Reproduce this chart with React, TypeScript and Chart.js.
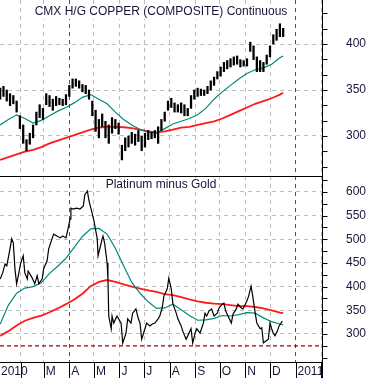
import React, { useEffect, useRef } from "react";
import { Chart, registerables } from "chart.js";

Chart.register(...registerables);

// ---- time axis (days since 1 Jan 2010) ----
const X_MIN = 5.8;
const X_MAX = 397.2;
const monthStarts = [0, 31, 59, 90, 120, 151, 181, 212, 243, 273, 304, 334, 365, 396];
const monthLabels = ["2010", "", "M", "A", "M", "J", "J", "A", "S", "O", "N", "D", "2011", ""];
const markerDays = [90, 365];

// ---- Copper (top panel) ----
const copperTitle = "CMX H/G COPPER (COMPOSITE) Continuous";
const copperDays = [
  6, 10, 14, 18, 22, 26, 30, 34, 38, 42, 46, 50, 54, 58, 62, 66, 70, 74, 78, 82, 86, 90,
  94, 98, 102, 106, 110, 114, 118, 122, 126, 130, 134, 138, 142, 146, 150, 154, 158, 162,
  166, 170, 174, 178, 182, 186, 190, 194, 198, 202, 206, 210, 214, 218, 222, 226, 230, 234,
  238, 242, 246, 250, 254, 258, 262, 266, 270, 274, 278, 282, 286, 290, 294, 298, 302, 306,
  310, 314, 318, 322, 326, 330, 334, 338, 342, 346, 350,
];
const copperHigh = [
  352, 354, 350, 346, 344, 338, 322, 312, 296, 303, 312, 326, 334, 330, 346, 344, 340, 343, 341, 340, 345, 355,
  362, 362, 360, 356, 355, 350, 338, 328, 318, 324, 316, 312, 320, 318, 314, 290, 298, 300,
  304, 302, 306, 300, 303, 306, 304, 306, 310, 318, 326, 338, 341, 336, 334, 336, 334, 330,
  344, 350, 352, 351, 350, 354, 360, 364, 370, 375, 380, 382, 384, 386, 387, 383, 382, 384,
  402, 398, 386, 382, 380, 388, 398, 410, 416, 422, 417,
];
const copperLow = [
  340, 343, 338, 333, 335, 326, 308, 292, 284, 291, 298, 312, 320, 318, 334, 332, 328, 333, 334, 333, 334, 343,
  352, 354, 352, 348, 346, 340, 322, 305, 298, 310, 298, 292, 303, 308, 302, 274, 284, 288,
  292, 290, 294, 284, 288, 296, 297, 298, 292, 306, 316, 328, 331, 326, 326, 325, 322, 322,
  330, 340, 343, 344, 344, 346, 350, 355, 362, 365, 370, 373, 375, 377, 378, 375, 376, 376,
  392, 383, 370, 370, 370, 378, 386, 400, 404, 408, 408,
];

// moving averages sampled on a common date list
const maDays = [
  6, 16, 26, 36, 46, 56, 66, 76, 86, 96, 106, 116, 126, 136, 146, 156, 166, 176,
  186, 196, 206, 216, 226, 236, 246, 256, 266, 276, 286, 296, 306, 316, 326, 336, 346, 350,
];
const copperMAShort = [
  312, 318, 323, 319, 314, 317, 322, 327, 331, 336, 342, 345, 340, 335, 326, 318, 312, 307,
  304, 303, 308, 313, 316, 319, 323, 330, 340, 348, 355, 362, 368, 372, 374, 378, 385, 387,
];
const copperMALong = [
  274, 277, 280, 283, 285, 288, 292, 295, 298, 301, 304, 307, 309, 310, 310, 309.5, 308.5, 307,
  305, 304, 305, 307, 309, 310, 312, 314, 316, 319, 323, 327, 331, 335, 338, 341, 345, 347,
];
const copperTicks = [300, 350, 400];

// ---- Platinum minus Gold (bottom panel) ----
const spreadTitle = "Platinum minus Gold";
const spreadDays = [
  6, 9, 12, 14, 17, 20, 22, 24, 26, 28, 31, 34, 36, 39, 40, 45, 48, 51, 53, 57, 59, 63, 65,
  69, 71, 75, 79, 82, 86, 88, 91, 92, 95, 99, 103, 107, 109, 112, 114, 118, 120, 124, 125,
  130, 131, 133, 136, 137, 138, 141, 142, 144, 148, 150, 153, 155, 159, 161, 165, 167, 171,
  174, 176, 178, 182, 184, 188, 191, 194, 198, 200, 203, 205, 209, 211, 214, 216, 220, 222,
  226, 228, 232, 234, 238, 240, 243, 245, 249, 253, 255, 257, 260, 263, 266, 270, 272, 276,
  278, 280, 283, 287, 289, 293, 295, 299, 301, 304, 306, 308, 311, 313, 316, 318, 322, 324,
  326, 329, 332, 334, 336, 338, 340, 343, 345, 349,
];
const spreadValues = [
  416, 429, 448, 444, 471, 501, 492, 437, 406, 423, 450, 465, 429, 416, 433, 418, 406, 423, 406, 416, 439, 454, 480,
  501, 511, 507, 503, 507, 503, 518, 543, 566, 564, 566, 564, 570, 595, 602, 581, 554, 539, 501, 465,
  501, 507, 492, 450, 416, 338, 311, 338, 323, 338, 332, 323, 281, 302, 332, 323, 344, 353,
  332, 323, 289, 311, 323, 317, 321, 323, 332, 338, 355, 380, 395, 418, 395, 363, 344, 332,
  317, 306, 289, 296, 311, 281, 302, 311, 302, 323, 344, 338, 349, 353, 338, 344, 355, 363,
  365, 349, 338, 323, 342, 353, 363, 355, 353, 363, 370, 380, 401, 380, 344, 323, 311, 313,
  281, 285, 289, 323, 311, 302, 296, 306, 317, 327,
];
const spreadMAShort = [
  321, 361, 386, 397, 400, 408, 428, 443, 460, 483, 506, 522, 523, 511, 481, 444, 409, 386,
  368, 354, 355, 363, 351, 339, 329, 330, 333, 339, 338, 341, 345, 344, 334, 326, 321, 319,
];
const spreadMALong = [
  296, 306, 318, 328, 334, 339, 346, 354, 363, 373, 385, 401, 410, 414, 410, 405, 400, 396,
  392, 389, 384, 382, 378, 373, 369, 366, 364, 363, 361, 359, 359, 357, 354, 350, 345, 344,
];
const spreadFloor = 275;
const spreadTicks = [300, 350, 400, 450, 500, 550, 600];

// ---- styling ----
const FONT = '"Liberation Sans", Arial, sans-serif';
const TEXT_COLOR = "#16163a";
const GRID_COLOR = "#bcbcbc";
const MARKER_COLOR = "#008a00";
const TEAL = "#00897a";
const RED = "#ff1a1a";

function xScale(axisHeight: number) {
  return {
    type: "linear" as const,
    min: X_MIN,
    max: X_MAX,
    offset: false,
    afterBuildTicks: (s: any) => {
      s.ticks = monthStarts.filter((d) => d > X_MIN && d < X_MAX).map((v) => ({ value: v }));
    },
    afterFit: (s: any) => {
      s.height = axisHeight;
      s.paddingLeft = 0;
      s.paddingRight = 0;
    },
    ticks: { display: false },
    grid: {
      offset: false,
      color: (c: any) => (c.tick && markerDays.includes(c.tick.value) ? MARKER_COLOR : GRID_COLOR),
      lineWidth: 1,
      drawTicks: false,
      borderDash: [4, 4],
    },
    border: { display: false, dash: [4, 4] },
  };
}

function yScale(min: number, max: number, ticks: number[]) {
  return {
    position: "right" as const,
    min,
    max,
    afterBuildTicks: (s: any) => {
      s.ticks = ticks.map((v) => ({ value: v }));
    },
    afterFit: (s: any) => {
      s.width = 49;
      s.paddingTop = 0;
      s.paddingBottom = 0;
    },
    ticks: { color: TEXT_COLOR, font: { family: FONT, size: 12 }, padding: 0 },
    grid: {
      color: GRID_COLOR,
      lineWidth: 1,
      drawTicks: true,
      tickLength: 24,
      tickColor: "rgba(0,0,0,0)",
      borderDash: [4, 4],
    },
    border: { display: false, dash: [4, 4] },
  };
}

function decorPlugin(o: {
  title: string;
  titleY: number;
  minorBase: number;
  minorStep: number;
  xAxis: boolean;
  topLine: boolean;
}) {
  return {
    id: "decor",
    afterDraw(chart: any) {
      const ctx = chart.ctx as CanvasRenderingContext2D;
      const ca = chart.chartArea;
      const ys = chart.scales.y;
      const xs = chart.scales.x;
      const rx = Math.round(ca.right) + 0.5;
      ctx.save();
      ctx.setLineDash([]);
      ctx.strokeStyle = "#000";
      ctx.lineWidth = 1;
      // right axis line
      ctx.beginPath();
      ctx.moveTo(rx, 0);
      ctx.lineTo(rx, chart.height);
      ctx.stroke();
      // minor ticks on the right axis
      ctx.beginPath();
      for (let k = -20; k <= 40; k++) {
        const v = o.minorBase + k * o.minorStep;
        if (v < ys.min || v > ys.max) continue;
        const py = Math.round(ys.getPixelForValue(v)) + 0.5;
        ctx.moveTo(rx, py);
        ctx.lineTo(rx + 5, py);
      }
      ctx.stroke();
      // panel separator
      if (o.topLine) {
        ctx.beginPath();
        ctx.moveTo(0, 0.5);
        ctx.lineTo(rx, 0.5);
        ctx.stroke();
      }
      // time axis
      if (o.xAxis) {
        const by = Math.round(ca.bottom) + 0.5;
        ctx.beginPath();
        ctx.moveTo(0, by);
        ctx.lineTo(rx, by);
        for (const d of monthStarts) {
          const px = Math.round(xs.getPixelForValue(d)) + 0.5;
          if (px < 0 || px > rx) continue;
          ctx.moveTo(px, by);
          ctx.lineTo(px, chart.height);
        }
        ctx.stroke();
        ctx.fillStyle = TEXT_COLOR;
        ctx.font = `12px ${FONT}`;
        ctx.textAlign = "left";
        ctx.textBaseline = "middle";
        monthStarts.forEach((d, i) => {
          const lab = monthLabels[i];
          if (!lab) return;
          const px = Math.max(1, xs.getPixelForValue(d) + 2);
          ctx.fillText(lab, px, by + 9);
        });
      }
      // title
      ctx.font = `12px ${FONT}`;
      ctx.textAlign = "center";
      ctx.textBaseline = "middle";
      const cx = (ca.left + ca.right) / 2;
      const w = ctx.measureText(o.title).width;
      ctx.fillStyle = "#fff";
      ctx.fillRect(cx - w / 2 - 1, o.titleY - 7, w + 2, 14);
      ctx.fillStyle = TEXT_COLOR;
      ctx.fillText(o.title, cx, o.titleY);
      ctx.restore();
    },
  };
}

function line(days: number[], vals: number[], color: string, width: number, extra: any = {}) {
  return {
    type: "line" as const,
    data: days.map((d, i) => ({ x: d, y: vals[i] })),
    borderColor: color,
    borderWidth: width,
    pointRadius: 0,
    fill: false,
    tension: 0,
    ...extra,
  };
}

export default function App() {
  const topRef = useRef<HTMLCanvasElement>(null);
  const botRef = useRef<HTMLCanvasElement>(null);

  useEffect(() => {
    const common = {
      responsive: false,
      animation: false as const,
      layout: { padding: 0 },
      plugins: { legend: { display: false }, tooltip: { enabled: false } },
      events: [] as any[],
    };

    const top = new Chart(topRef.current!, {
      type: "bar",
      data: {
        datasets: [
          {
            type: "bar",
            data: copperDays.map((d, i) => ({ x: d, y: [copperLow[i], copperHigh[i]] })) as any,
            backgroundColor: "#000",
            borderWidth: 0,
            barThickness: 1.6,
            grouped: false,
          } as any,
          line(maDays, copperMAShort, TEAL, 1.2),
          line(maDays, copperMALong, RED, 1.8),
        ],
      },
      options: {
        ...common,
        scales: { x: xScale(0), y: yScale(256.52, 447.83, copperTicks) },
      } as any,
      plugins: [
        decorPlugin({ title: copperTitle, titleY: 12, minorBase: 300, minorStep: 50 / 3, xAxis: false, topLine: false }),
      ],
    });

    const bottom = new Chart(botRef.current!, {
      type: "line",
      data: {
        datasets: [
          line(spreadDays, spreadValues, "#000", 1.2),
          line(maDays, spreadMAShort, TEAL, 1.2),
          line(maDays, spreadMALong, RED, 1.8),
          line([X_MIN, X_MAX], [spreadFloor, spreadFloor], "#a00000", 1.3, { borderDash: [4, 3] }),
        ],
      },
      options: {
        ...common,
        scales: { x: xScale(16), y: yScale(240.8, 633.8, spreadTicks) },
      } as any,
      plugins: [
        decorPlugin({ title: spreadTitle, titleY: 9, minorBase: 300, minorStep: 25, xAxis: true, topLine: true }),
      ],
    });

    return () => {
      top.destroy();
      bottom.destroy();
    };
  }, []);

  return (
    <div style={{ position: "absolute", left: 0, top: 0, width: 371, height: 378, background: "#fff" }}>
      <canvas ref={topRef} width={371} height={176} style={{ display: "block" }} />
      <canvas ref={botRef} width={371} height={202} style={{ display: "block" }} />
    </div>
  );
}
